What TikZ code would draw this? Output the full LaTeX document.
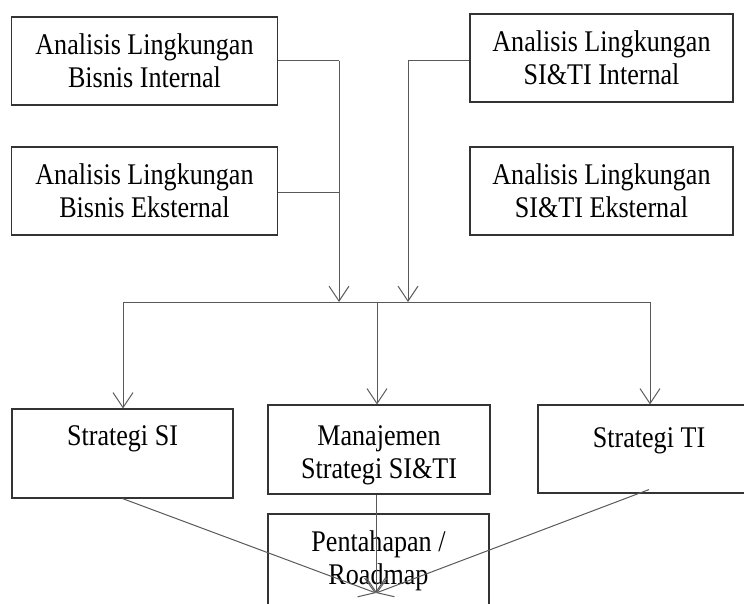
\documentclass[tikz,border=0pt]{standalone}
\usepackage{fontspec}
\setmainfont{Liberation Serif}[FakeStretch=0.87]
\usetikzlibrary{arrows.meta}
\begin{document}
\begin{tikzpicture}[x=1pt,y=-1pt,
  box/.style={draw=black!80,line width=1.1pt,rectangle,inner sep=0pt},
  txt/.style={inner sep=0pt,align=center,font=\fontsize{30}{33}\selectfont},
  conn/.style={draw=black!65,line width=1pt},
  arr/.style={conn,-{Straight Barb[length=15pt,width=20pt,line width=1pt]}}]
\useasboundingbox (0,0) rectangle (744,604);
\clip (0,0) rectangle (744,604);
% top boxes
\node[box,minimum width=266pt,minimum height=88pt] (bi) at (144.5,61) {};
\node[box,minimum width=266pt,minimum height=88pt] (be) at (144.5,191) {};
\node[box,minimum width=263pt,minimum height=88pt] (si) at (601.5,58) {};
\node[box,minimum width=263pt,minimum height=88pt] (se) at (601.5,191) {};
\node[txt] (tbi) at (bi.center) {Analisis Lingkungan\\Bisnis Internal};
\node[txt] (tbe) at (be.center) {Analisis Lingkungan\\Bisnis Eksternal};
\node[txt] (tsi) at (si.center) {Analisis Lingkungan\\SI\&TI Internal};
\node[txt] (tse) at (se.center) {Analisis Lingkungan\\SI\&TI Eksternal};
% middle boxes
\node[box,minimum width=221pt,minimum height=89pt] (ssi) at (122.5,453.5) {};
\node[box,minimum width=222pt,minimum height=89pt] (man) at (379,449.5) {};
\node[box,minimum width=222pt,minimum height=88pt] (sti) at (649,449) {};
\node[box,minimum width=221pt,minimum height=94pt] (pen) at (378.5,561) {};
\node[txt] (tssi) at (122.5,439) {Strategi SI};
\node[txt] (tman) at (379,455) {Manajemen\\Strategi SI\&TI};
\node[txt] (tsti) at (649,441) {Strategi TI};
\node[txt] (tpen) at (378.5,561) {Pentahapan /\\Roadmap};
% bus
\coordinate (hl) at (123,302);
\coordinate (hr) at (650,302);
\coordinate (hm) at (377,302);
\coordinate (a1) at (339,302);
\coordinate (a2) at (408,302);
\coordinate (tip) at (376,593);
\draw[conn] (hl) -- (hr);
\draw[conn] (bi.east |- 0,61) -- (339,61) coordinate (k1);
\draw[arr] (k1) -- (a1);
\draw[conn] (be.east |- 0,193) -- (339,193);
\draw[conn] (si.west |- 0,61) -- (408,61) coordinate (k2);
\draw[arr] (k2) -- (a2);
\draw[arr] (hl) -- (hl |- ssi.north);
\draw[arr] (hm) -- (hm |- man.north);
\draw[arr] (hr) -- (hr |- sti.north);
% to roadmap
\draw[arr] (ssi.south) -- (tip);
\draw[arr] (man.south -| tip) -- (tip);
\draw[arr] ([yshift=4pt]sti.south) -- (tip);
\end{tikzpicture}
\end{document}
